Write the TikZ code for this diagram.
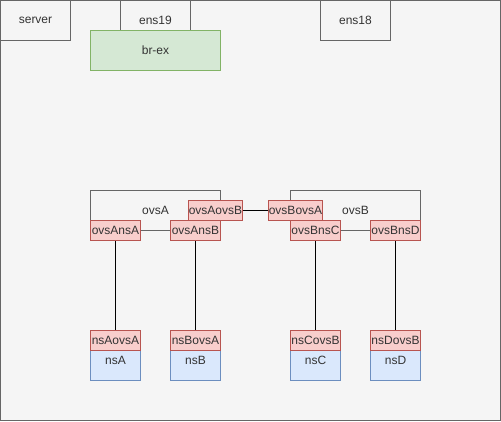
\documentclass[tikz,border=0pt]{standalone}
\usepackage{fontspec}
\setmainfont{Liberation Sans}
\definecolor{bg}{HTML}{F5F5F5}
\definecolor{edge}{HTML}{666666}
\definecolor{txt}{HTML}{333333}
\definecolor{redf}{HTML}{F8CECC}
\definecolor{redd}{HTML}{B85450}
\definecolor{greenf}{HTML}{D5E8D4}
\definecolor{greend}{HTML}{82B366}
\definecolor{bluef}{HTML}{DAE8FC}
\definecolor{blued}{HTML}{6C8EBF}
\begin{document}
\begin{tikzpicture}[x=1pt,y=-1pt,font=\fontsize{12}{14}\selectfont,
  graybox/.style={draw=edge,fill=bg,line width=1pt,inner sep=0pt,text=txt},
  redbox/.style={draw=redd,fill=redf,line width=1pt,inner sep=0pt,text=txt,minimum width=50pt,minimum height=20pt},
  greenbox/.style={draw=greend,fill=greenf,line width=1pt,inner sep=0pt,text=txt},
  bluebox/.style={draw=blued,fill=bluef,line width=1pt,inner sep=0pt,minimum width=50pt,minimum height=30pt},
  cont/.style={draw=edge,line width=1pt,inner sep=0pt,text=txt,minimum width=130pt,minimum height=40pt},
  link/.style={draw=black,line width=1pt}]
\useasboundingbox (-0.5,-0.5) rectangle (500.5,420.5);
% outer frame
\node[graybox,minimum width=500pt,minimum height=420pt] (frame) at (250,210) {};
\node[graybox,minimum width=70pt,minimum height=40pt] (server) at (35,20) {server};
\node[graybox,minimum width=70pt,minimum height=40pt] (ens19) at (155,20) {ens19};
\node[graybox,minimum width=70pt,minimum height=40pt] (ens18) at (355,20) {ens18};
\node[greenbox,minimum width=130pt,minimum height=40pt] (brex) at (155,50) {br-ex};
% containers
\node[cont] (ovsA) at (155,210) {ovsA};
\node[cont] (ovsB) at (355,210) {ovsB};
% ovs ports
\node[redbox] (ovsAovsB) at (215,210) {ovsAovsB};
\node[redbox] (ovsAnsA) at (115,230) {ovsAnsA};
\node[redbox] (ovsAnsB) at (195,230) {ovsAnsB};
\node[redbox] (ovsBovsA) at (295,210) {ovsBovsA};
\node[redbox] (ovsBnsC) at (315,230) {ovsBnsC};
\node[redbox] (ovsBnsD) at (395,230) {ovsBnsD};
% namespaces
\node[bluebox,label={[anchor=center,yshift=-10pt,text=txt]north:nsA}] (nsA) at (115,365) {};
\node[bluebox,label={[anchor=center,yshift=-10pt,text=txt]north:nsB}] (nsB) at (195,365) {};
\node[bluebox,label={[anchor=center,yshift=-10pt,text=txt]north:nsC}] (nsC) at (315,365) {};
\node[bluebox,label={[anchor=center,yshift=-10pt,text=txt]north:nsD}] (nsD) at (395,365) {};
\node[redbox] (nsAovsA) at (115,340) {nsAovsA};
\node[redbox] (nsBovsA) at (195,340) {nsBovsA};
\node[redbox] (nsCovsB) at (315,340) {nsCovsB};
\node[redbox] (nsDovsB) at (395,340) {nsDovsB};
% links
\draw[link] (ovsAovsB) -- (ovsBovsA);
\draw[link] (ovsAnsA) -- (nsAovsA);
\draw[link] (ovsAnsB) -- (nsBovsA);
\draw[link] (ovsBnsC) -- (nsCovsB);
\draw[link] (ovsBnsD) -- (nsDovsB);
\end{tikzpicture}
\end{document}
